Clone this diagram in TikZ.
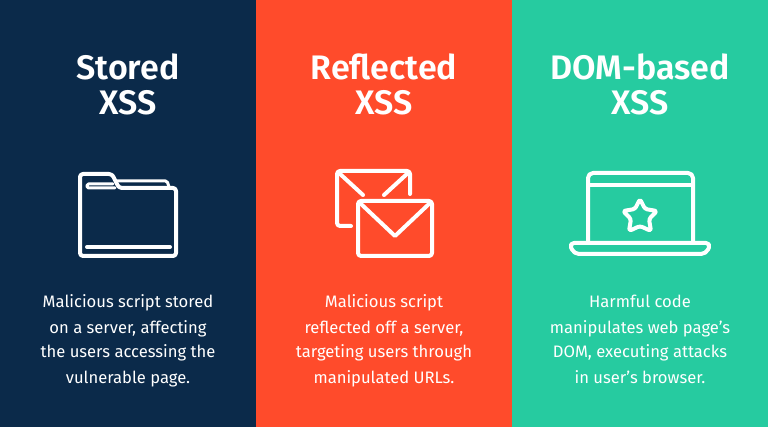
\documentclass[tikz,border=0pt]{standalone}
\usepackage{fontspec}
\setmainfont{Fira Sans}
\newfontfamily\headfont{Fira Sans}[UprightFont=* SemiBold]
\usetikzlibrary{positioning,shapes.geometric}
\definecolor{navy}{HTML}{0B2A4A}
\definecolor{coral}{HTML}{FF4B2B}
\definecolor{mint}{HTML}{26CBA0}
\tikzset{
  heading/.style={white,align=center,anchor=base,font=\headfont\fontsize{34}{35}\selectfont},
  blurb/.style={white,align=center,anchor=base,font=\fontsize{16.6}{25}\selectfont},
  icon/.style={white,line width=4pt,line cap=round,line join=round}
}
\begin{document}
\begin{tikzpicture}[x=1pt,y=-1pt]
  \useasboundingbox (0,0) rectangle (768,427);
  \fill[navy] (0,0) rectangle (256,427);
  \fill[coral] (256,0) rectangle (512,427);
  \fill[mint] (512,0) rectangle (768,427);
  % headings
  \node[heading] (stored) at (128,115) {Stored\\XSS};
  \node[heading] (reflected) at (384,115) {Reflected\\XSS};
  \node[heading] (dom) at (640,115) {DOM-based\\XSS};
  % folder
  \draw[icon,rounded corners=3pt] (80,190) -- (80,174) -- (112,174) -- (119,188) -- (176,188) -- (176,256) -- (80,256) -- cycle;
  \draw[icon] (87,247) -- (170,247);
  \draw[icon,line width=3pt,rounded corners=1.5pt] (117,181) -- (167,181) -- (169,187);
  \draw[icon,line width=3pt,rounded corners=1.5pt] (113,184) -- (87,184) -- (87,188) -- (115,188);
  % envelopes
  \draw[icon,rounded corners=3pt] (351,226) -- (337,226) -- (337,171) -- (410,171) -- (410,194);
  \draw[icon] (339,173) -- (363,195);
  \draw[icon] (408,173) -- (384,195);
  \draw[icon,rounded corners=3pt] (358,201) rectangle (432,256);
  \draw[icon] (360,203) -- (395,236) -- (430,203);
  % laptop
  \draw[icon,rounded corners=5pt] (588,243) -- (588,173) -- (693,173) -- (693,243);
  \draw[icon] (588,185) -- (693,185);
  \draw[icon,rounded corners=5pt] (569,243) -- (711,243) -- (706,254) -- (574,254) -- cycle;
  \draw[icon,rounded corners=2.5pt] (640,199) -- (645,209) -- (657,211) -- (649,219) -- (651,231) -- (640,226) -- (629,231) -- (631,219) -- (623,211) -- (635,209) -- cycle;
  % blurbs
  \node[blurb] (storedtext) at (128,383) {Malicious script stored\\on a server, affecting\\the users accessing the\\vulnerable page.};
  \node[blurb] (reflectedtext) at (384,383) {Malicious script\\reflected off a server,\\targeting users through\\manipulated URLs.};
  \node[blurb] (domtext) at (640,383) {Harmful code\\manipulates web page's\\DOM, executing attacks\\in user's browser.};
\end{tikzpicture}
\end{document}
